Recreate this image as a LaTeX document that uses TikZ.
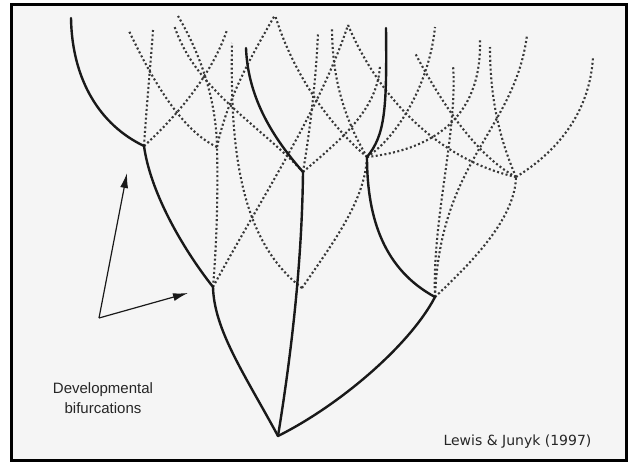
\documentclass[tikz,border=0pt]{standalone}
\usepackage{fontspec}
\usepackage{tikz}
\usetikzlibrary{arrows.meta}
\newfontfamily\labelfont{Liberation Sans}
\newfontfamily\citefont{DejaVu Sans}

\begin{document}
\begin{tikzpicture}[x=1pt,y=-1pt,
  trunk/.style={line width=2.4pt,black!90,line cap=round},
  ghost/.style={line width=2.1pt,black!78,dash pattern=on 2pt off 2.4pt},
  pointer/.style={line width=1.2pt,black!90,-{Latex[length=15pt,width=8pt]}}]
  \useasboundingbox (0,0) rectangle (630,464);
  \draw[line width=3.5pt,fill=black!4] (11.5,4.5) rectangle (626.5,460.5);
  \coordinate (O) at (278,436); \coordinate (L) at (213,287); \coordinate (R) at (435,297);
  \coordinate (A) at (144,146); \coordinate (M) at (303,172); \coordinate (N) at (367,157);
  \coordinate (V) at (217,147); \coordinate (D) at (302,288); \coordinate (P) at (516,177);
  \draw[ghost] (A) .. controls (147,100) and (151,60) .. (153,30);
  \draw[ghost] (A) .. controls (175,118) and (212,75) .. (227,30);
  \draw[ghost] (L) .. controls (217,240) and (218,190) .. (V);
  \draw[ghost] (V) .. controls (180,130) and (150,75) .. (129,31);
  \draw[ghost] (V) .. controls (216,95) and (198,50) .. (178,16);
  \draw[ghost] (V) .. controls (228,95) and (255,50) .. (275,15);
  \draw[ghost] (L) .. controls (260,200) and (320,110) .. (348,25);
  \draw[ghost] (D) .. controls (240,240) and (230,150) .. (232,43);
  \draw[ghost] (D) .. controls (335,240) and (365,200) .. (N);
  \draw[ghost] (M) .. controls (310,130) and (316,80) .. (318,33);
  \draw[ghost] (M) .. controls (340,140) and (378,110) .. (380,65);
  \draw[ghost] (M) .. controls (260,125) and (195,90) .. (174,25);
  \draw[ghost] (N) .. controls (345,120) and (332,80) .. (332,27);
  \draw[ghost] (N) .. controls (335,130) and (295,80) .. (275,15);
  \draw[ghost] (N) .. controls (400,135) and (430,80) .. (435,27);
  \draw[ghost] (N) .. controls (430,150) and (482,120) .. (480,40);
  \draw[ghost] (R) .. controls (432,220) and (458,130) .. (453,65);
  \draw[ghost] (R) .. controls (440,160) and (515,130) .. (527,35);
  \draw[ghost] (R) .. controls (480,255) and (515,215) .. (P);
  \draw[ghost] (P) .. controls (440,160) and (380,100) .. (348,25);
  \draw[ghost] (P) .. controls (475,155) and (440,100) .. (415,53);
  \draw[ghost] (P) .. controls (500,140) and (490,100) .. (490,47);
  \draw[ghost] (P) .. controls (560,150) and (590,110) .. (593,57);
  \draw[trunk] (O) .. controls (245,375) and (214,330) .. (L);
  \draw[trunk] (O) .. controls (292,350) and (302,260) .. (M);
  \draw[trunk] (O) .. controls (340,405) and (410,345) .. (R);
  \draw[trunk] (L) .. controls (180,245) and (150,190) .. (A);
  \draw[trunk] (A) .. controls (100,125) and (72,80) .. (71,18);
  \draw[trunk] (M) .. controls (275,140) and (248,100) .. (246,48);
  \draw[trunk] (R) .. controls (385,270) and (367,220) .. (N);
  \draw[trunk] (N) .. controls (385,135) and (387,110) .. (386,28);
  \coordinate (T) at (99,318);
  \draw[pointer] (T) -- (127,173); \draw[pointer] (T) -- (188,293);
  \node[font=\labelfont\fontsize{15}{20}\selectfont,align=center,text=black!85] (lbl) at (103,398) {Developmental\\bifurcations};
  \node[font=\citefont\fontsize{14}{16}\selectfont,text=black!85,anchor=base west] (cite) at (440,445) {Lewis \& Junyk (1997)};
\end{tikzpicture}
\end{document}
